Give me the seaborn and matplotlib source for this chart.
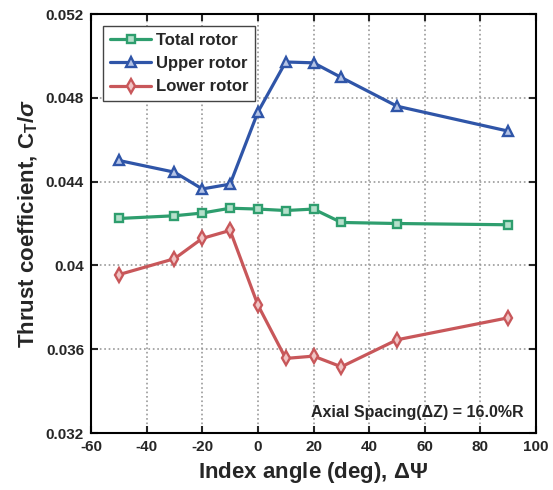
import pandas as pd
import matplotlib
matplotlib.use("Agg")
import matplotlib.pyplot as plt
import seaborn as sns

# index angle (deg)
angle = [-50, -30, -20, -10, 0, 10, 20, 30, 50, 90]

# thrust coefficient CT/sigma
total_rotor = [0.04224, 0.04237, 0.04250, 0.04273, 0.04269, 0.04262, 0.04269, 0.04205, 0.04200, 0.04194]
upper_rotor = [0.04501, 0.04445, 0.04365, 0.04388, 0.04732, 0.04971, 0.04967, 0.04897, 0.04760, 0.04641]
lower_rotor = [0.03956, 0.04032, 0.04129, 0.04167, 0.03811, 0.03556, 0.03567, 0.03516, 0.03645, 0.03750]

x_ticks = [-60, -40, -20, 0, 20, 40, 60, 80, 100]
y_ticks = [0.032, 0.036, 0.04, 0.044, 0.048, 0.052]
y_tick_labels = ['0.032', '0.036', '0.04', '0.044', '0.048', '0.052']

sns.set_style("ticks")
plt.rcParams['font.family'] = ['Liberation Sans', 'DejaVu Sans']
plt.rcParams['font.weight'] = 'bold'
plt.rcParams['axes.unicode_minus'] = False
plt.rcParams['mathtext.fontset'] = 'custom'
plt.rcParams['mathtext.rm'] = 'Liberation Sans:bold'
plt.rcParams['mathtext.bf'] = 'Liberation Sans:bold'
plt.rcParams['mathtext.it'] = 'Liberation Sans:italic:bold'

df = pd.DataFrame({'angle': angle, 'Total rotor': total_rotor,
                   'Upper rotor': upper_rotor, 'Lower rotor': lower_rotor})

fig = plt.figure(figsize=(5.53, 4.90), dpi=100)
ax = fig.add_axes([0.1646, 0.1163, 0.8047, 0.8551])

series = [
    ('Total rotor', '#2E9E6E', '#B5E0CB', 's', 5.5),
    ('Upper rotor', '#2F55A8', '#B5C4E6', '^', 7.5),
    ('Lower rotor', '#C8575A', '#F0C4C4', 'd', 7),
]
for name, col, face, mk, ms in series:
    sns.lineplot(data=df, x='angle', y=name, ax=ax, color=col, linewidth=2.3,
                 marker=mk, markersize=ms, markerfacecolor=face,
                 markeredgecolor=col, markeredgewidth=1.7, label=name)

ax.set_xlim(-60, 100)
ax.set_ylim(0.032, 0.052)
ax.set_xticks(x_ticks)
ax.set_yticks(y_ticks)
ax.set_yticklabels(y_tick_labels)
ax.tick_params(direction='in', length=5, width=1.5, labelsize=11,
               top=True, right=True, pad=5)
for lab in ax.get_xticklabels() + ax.get_yticklabels():
    lab.set_fontweight('bold')
for sp in ax.spines.values():
    sp.set_linewidth(1.5)
    sp.set_color('black')
ax.grid(True, linestyle=':', color='#999999', linewidth=1.2)
ax.set_axisbelow(True)

ax.set_xlabel('Index angle (deg), Δ$\\Psi$', fontsize=16, fontweight='bold')
ax.set_ylabel('Thrust coefficient, C$_\\mathrm{T}$/$\\sigma$', fontsize=16, fontweight='bold')

leg = ax.legend(loc='upper left', bbox_to_anchor=(0.027, 0.971), fontsize=12,
                frameon=True, fancybox=False, borderpad=0.4, labelspacing=0.5,
                handlelength=2.5, handletextpad=0.25, borderaxespad=0.0)
leg.get_frame().set_edgecolor('#444444')
leg.get_frame().set_linewidth(1.0)
leg.get_frame().set_alpha(1)
for t in leg.get_texts():
    t.set_fontweight('bold')

ax.text(0.973, 0.05, 'Axial Spacing(ΔZ) = 16.0%R', transform=ax.transAxes,
        ha='right', va='center', fontsize=11.5, fontweight='bold')

fig.savefig('out.png', dpi=100)
